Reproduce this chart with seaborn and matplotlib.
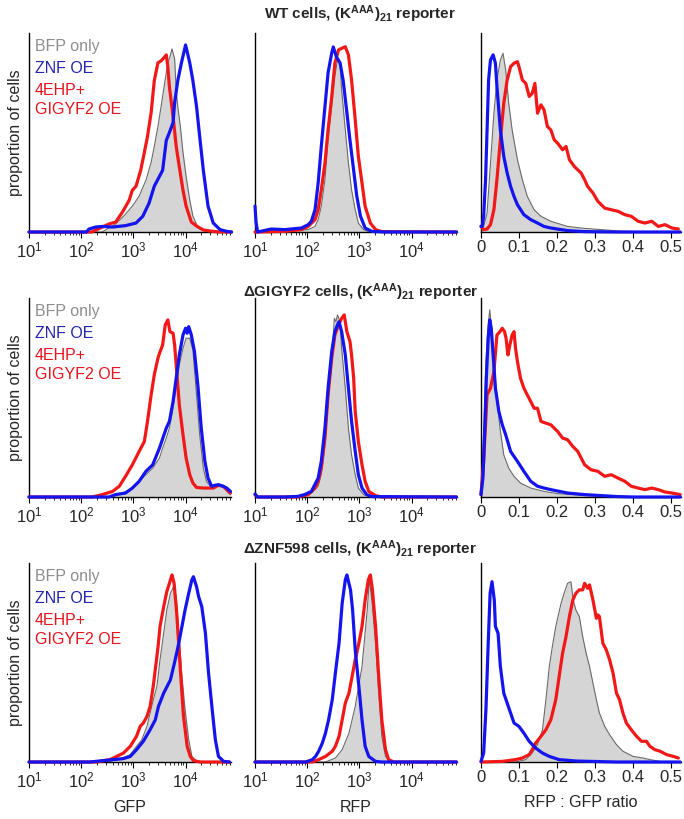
import numpy as np
import matplotlib
matplotlib.use("Agg")
import matplotlib.pyplot as plt
import seaborn as sns
from matplotlib.ticker import LogLocator, NullFormatter, FixedLocator, FixedFormatter

# ---- data: GFP / RFP x values are log10(intensity), y is proportion of cells (mode-normalised)
# WT cells
wt_gfp_bfp_x = [1.0, 2.4, 2.66, 2.85, 2.98, 3.11, 3.24, 3.34, 3.40, 3.47, 3.53, 3.60, 3.66, 3.70, 3.74, 3.79, 3.82, 3.85, 3.90, 3.95, 4.01, 4.08, 4.14, 4.24, 4.4, 4.88]
wt_gfp_bfp_y = [0, 0, .04, .09, .13, .18, .26, .35, .43, .53, .63, .75, .85, .88, .92, .87, .71, .63, .53, .40, .28, .16, .08, .02, 0, 0]
wt_gfp_znf_x = [1.0, 2.1, 2.15, 2.28, 2.40, 2.6, 2.85, 3.05, 3.18, 3.30, 3.40, 3.50, 3.56, 3.63, 3.69, 3.76, 3.79, 3.85, 3.92, 4.0, 4.08, 4.14, 4.21, 4.27, 4.34, 4.43, 4.53, 4.66, 4.79, 4.88]
wt_gfp_znf_y = [0, 0, .015, .025, .028, .025, .032, .045, .079, .145, .23, .28, .31, .46, .50, .55, .65, .76, .85, .94, .85, .76, .63, .48, .31, .13, .045, .012, .003, 0]
wt_gfp_ehp_x = [1.0, 2.2, 2.53, 2.66, 2.79, 2.92, 2.98, 3.05, 3.14, 3.21, 3.27, 3.34, 3.37, 3.40, 3.47, 3.53, 3.60, 3.63, 3.66, 3.69, 3.76, 3.82, 3.89, 3.95, 4.01, 4.11, 4.21, 4.34, 4.53, 4.66, 4.88]
wt_gfp_ehp_y = [0, 0, .04, .05, .1, .16, .21, .23, .31, .40, .48, .60, .68, .76, .85, .86, .88, .89, .83, .73, .58, .43, .31, .21, .13, .05, .03, .01, .003, 0, 0]

wt_rfp_bfp_x = [1.0, 2.02, 2.15, 2.21, 2.27, 2.34, 2.40, 2.47, 2.53, 2.58, 2.63, 2.66, 2.73, 2.79, 2.85, 2.92, 2.98, 3.08, 3.18, 4.86]
wt_rfp_bfp_y = [0, .012, .028, .062, .129, .263, .463, .63, .78, .865, .848, .714, .513, .346, .212, .112, .045, .012, .002, 0]
wt_rfp_znf_x = [1.0, 1.02, 1.05, 1.31, 1.57, 1.89, 2.02, 2.08, 2.15, 2.21, 2.27, 2.34, 2.40, 2.47, 2.50, 2.56, 2.63, 2.69, 2.76, 2.82, 2.89, 2.95, 3.02, 3.11, 3.24, 3.5, 4.86]
wt_rfp_znf_y = [.13, .05, 0, .015, .012, .02, .037, .054, .112, .246, .43, .63, .80, .90, .93, .88, .85, .76, .60, .46, .31, .18, .08, .02, .003, 0, 0]
wt_rfp_ehp_x = [1.0, 1.57, 1.89, 2.02, 2.15, 2.21, 2.27, 2.34, 2.40, 2.47, 2.53, 2.60, 2.66, 2.73, 2.79, 2.85, 2.92, 2.98, 3.05, 3.11, 3.21, 3.31, 3.43, 4.86]
wt_rfp_ehp_y = [0, .003, .012, .028, .062, .112, .212, .346, .513, .68, .848, .915, .923, .931, .89, .764, .564, .38, .246, .129, .045, .012, .002, 0]

wt_ratio_bfp_x = [0, .007, .016, .025, .034, .042, .051, .058, .065, .073, .082, .096, .109, .122, .14, .158, .184, .228, .273, .317, .361, .405, .45]
wt_ratio_bfp_y = [.012, .028, .095, .346, .597, .764, .865, .898, .814, .647, .513, .363, .263, .179, .112, .079, .054, .028, .018, .012, .005, .002, 0]
wt_ratio_znf_x = [0, .003, .007, .012, .016, .02, .025, .032, .038, .042, .051, .06, .069, .078, .087, .096, .113, .131, .149, .166, .184, .228, .273, .361, .525]
wt_ratio_znf_y = [.028, .028, .079, .263, .513, .764, .865, .89, .848, .731, .513, .38, .296, .229, .179, .137, .087, .062, .045, .028, .02, .007, .002, 0, 0]
wt_ratio_ehp_x = [0, .007, .016, .025, .034, .042, .051, .06, .069, .078, .087, .096, .10, .109, .118, .127, .135, .142, .149, .158, .166, .175, .184, .193, .202, .215, .224, .233, .246, .264, .273, .281, .295, .308, .326, .343, .361, .379, .396, .414, .432, .45, .467, .485, .503, .52]
wt_ratio_ehp_y = [.028, .012, .015, .037, .112, .263, .463, .647, .764, .831, .848, .856, .831, .764, .747, .681, .697, .747, .597, .639, .614, .53, .513, .463, .446, .413, .43, .363, .329, .296, .263, .229, .196, .154, .12, .112, .104, .087, .079, .054, .045, .054, .028, .037, .02, .015]

# dGIGYF2 cells
dgig_gfp_bfp_x = [1.0, 2.5, 2.73, 2.98, 3.11, 3.24, 3.37, 3.50, 3.56, 3.63, 3.69, 3.76, 3.82, 3.88, 3.95, 4.01, 4.08, 4.14, 4.21, 4.27, 4.34, 4.40, 4.50, 4.63, 4.72, 4.79, 4.86]
dgig_gfp_bfp_y = [0, 0, .012, .045, .079, .112, .145, .196, .246, .296, .346, .446, .547, .664, .747, .798, .798, .739, .513, .313, .145, .079, .045, .054, .054, .028, .012]
dgig_gfp_znf_x = [1.0, 2.53, 2.66, 2.85, 2.98, 3.11, 3.24, 3.37, 3.50, 3.63, 3.69, 3.76, 3.82, 3.88, 3.95, 4.0, 4.03, 4.06, 4.11, 4.17, 4.24, 4.30, 4.37, 4.43, 4.50, 4.56, 4.63, 4.72, 4.79, 4.86]
dgig_gfp_znf_y = [0, 0, .012, .02, .045, .079, .129, .162, .246, .346, .38, .48, .597, .714, .814, .848, .823, .856, .814, .731, .547, .346, .179, .095, .054, .059, .062, .054, .045, .028]
dgig_gfp_ehp_x = [1.0, 2.21, 2.40, 2.60, 2.73, 2.85, 2.98, 3.11, 3.21, 3.27, 3.34, 3.40, 3.47, 3.50, 3.56, 3.61, 3.66, 3.70, 3.76, 3.79, 3.83, 3.88, 3.95, 4.01, 4.08, 4.14, 4.21, 4.34, 4.53, 4.63, 4.72, 4.79, 4.86]
dgig_gfp_ehp_y = [0, 0, .012, .028, .054, .104, .162, .229, .279, .38, .513, .614, .697, .722, .764, .865, .89, .831, .823, .764, .63, .463, .313, .196, .112, .07, .048, .045, .045, .059, .054, .037, .02]

dgig_rfp_bfp_x = [1.0, 1.89, 2.08, 2.21, 2.27, 2.34, 2.40, 2.47, 2.52, 2.55, 2.58, 2.63, 2.66, 2.73, 2.79, 2.85, 2.92, 2.98, 3.08, 3.18, 4.86]
dgig_rfp_bfp_y = [0, .003, .02, .054, .112, .263, .48, .681, .898, .881, .915, .881, .747, .547, .346, .212, .112, .045, .012, .002, 0]
dgig_rfp_znf_x = [1.0, 1.05, 1.57, 1.82, 1.95, 2.08, 2.21, 2.27, 2.34, 2.40, 2.47, 2.53, 2.58, 2.61, 2.66, 2.73, 2.79, 2.85, 2.92, 2.98, 3.05, 3.14, 3.24, 4.86]
dgig_rfp_znf_y = [.015, 0, 0, .003, .012, .028, .095, .179, .346, .547, .731, .831, .865, .881, .831, .714, .547, .38, .229, .112, .045, .012, .002, 0]
dgig_rfp_ehp_x = [1.0, 1.05, 1.82, 2.02, 2.15, 2.21, 2.27, 2.34, 2.40, 2.47, 2.53, 2.60, 2.66, 2.71, 2.76, 2.82, 2.85, 2.89, 2.92, 2.98, 3.05, 3.11, 3.18, 3.31, 3.43, 4.86]
dgig_rfp_ehp_y = [.012, 0, 0, .012, .045, .079, .145, .296, .513, .697, .814, .865, .898, .915, .831, .781, .714, .597, .43, .279, .162, .079, .028, .007, 0, 0]

dgig_ratio_bfp_x = [0, .004, .009, .013, .018, .023, .028, .034, .041, .05, .06, .073, .087, .104, .131, .166, .202, .273, .361, .45]
dgig_ratio_bfp_y = [.012, .179, .43, .681, .848, .94, .848, .681, .513, .346, .212, .145, .104, .07, .045, .028, .017, .007, .002, 0]
dgig_ratio_znf_x = [0, .005, .01, .014, .019, .023, .027, .032, .038, .047, .056, .065, .078, .096, .113, .131, .149, .166, .184, .228, .273, .317, .361, .405, .525]
dgig_ratio_znf_y = [.012, .095, .346, .597, .798, .89, .848, .714, .547, .43, .363, .313, .229, .179, .129, .079, .054, .045, .037, .02, .012, .007, .002, 0, 0]
dgig_ratio_ehp_x = [0, .007, .016, .025, .034, .042, .05, .056, .062, .066, .071, .076, .082, .087, .091, .096, .104, .113, .122, .131, .14, .149, .158, .171, .184, .193, .202, .215, .228, .242, .255, .264, .273, .29, .308, .326, .343, .361, .379, .396, .414, .432, .45, .467, .485, .503, .525]
dgig_ratio_ehp_y = [.012, .179, .513, .547, .63, .814, .831, .848, .831, .798, .714, .764, .814, .831, .747, .681, .597, .547, .513, .48, .446, .446, .38, .371, .363, .346, .329, .296, .288, .254, .229, .196, .162, .137, .129, .104, .112, .095, .079, .054, .045, .037, .045, .037, .025, .02, .012]

# dZNF598 cells
dznf_gfp_bfp_x = [1.0, 2.49, 2.74, 2.94, 3.06, 3.16, 3.26, 3.35, 3.45, 3.51, 3.58, 3.64, 3.71, 3.77, 3.82, 3.87, 3.93, 3.99, 4.06, 4.12, 4.22, 4.84]
dznf_gfp_bfp_y = [0, 0, .015, .037, .079, .112, .179, .279, .38, .513, .647, .764, .848, .881, .831, .647, .43, .263, .112, .028, .003, 0]
dznf_gfp_znf_x = [1.0, 2.17, 2.42, 2.62, 2.81, 2.94, 3.06, 3.19, 3.32, 3.42, 3.48, 3.58, 3.71, 3.80, 3.87, 3.93, 3.99, 4.06, 4.12, 4.15, 4.21, 4.25, 4.31, 4.38, 4.44, 4.51, 4.57, 4.63, 4.73, 4.84]
dznf_gfp_znf_y = [0, 0, .007, .012, .017, .028, .062, .104, .162, .212, .279, .346, .413, .513, .597, .681, .764, .848, .915, .931, .881, .831, .781, .647, .446, .263, .112, .028, .003, 0]
dznf_gfp_ehp_x = [1.0, 2.29, 2.55, 2.68, 2.81, 2.94, 3.06, 3.13, 3.19, 3.26, 3.32, 3.38, 3.45, 3.48, 3.51, 3.58, 3.64, 3.71, 3.74, 3.78, 3.83, 3.90, 3.96, 4.03, 4.09, 4.15, 4.28, 4.84]
dznf_gfp_ehp_y = [0, 0, .012, .028, .045, .079, .129, .179, .196, .229, .279, .38, .53, .597, .681, .78, .856, .915, .94, .898, .747, .463, .229, .079, .028, .007, 0, 0]

dznf_rfp_bfp_x = [1.0, 2.35, 2.54, 2.67, 2.80, 2.92, 3.05, 3.15, 3.19, 3.24, 3.31, 3.37, 3.43, 3.50, 3.59, 4.86]
dznf_rfp_bfp_y = [0, 0, .02, .062, .145, .279, .48, .764, .915, .814, .597, .346, .129, .028, .002, 0]
dznf_rfp_znf_x = [1.0, 1.97, 2.10, 2.16, 2.22, 2.29, 2.35, 2.41, 2.48, 2.54, 2.61, 2.67, 2.73, 2.76, 2.83, 2.87, 2.92, 2.99, 3.05, 3.11, 3.18, 3.31, 3.43, 4.86]
dznf_rfp_znf_y = [0, 0, .012, .028, .054, .095, .145, .212, .313, .447, .597, .798, .915, .94, .865, .764, .564, .38, .212, .079, .028, .003, 0, 0]
dznf_rfp_ehp_x = [1.0, 2.10, 2.22, 2.35, 2.48, 2.54, 2.61, 2.67, 2.73, 2.80, 2.86, 2.92, 2.99, 3.05, 3.11, 3.17, 3.21, 3.25, 3.31, 3.37, 3.43, 3.50, 3.56, 3.66, 4.86]
dznf_rfp_ehp_y = [0, 0, .012, .028, .054, .079, .129, .212, .296, .346, .43, .513, .597, .681, .814, .915, .94, .865, .681, .43, .212, .062, .012, 0, 0]

dznf_ratio_bfp_x = [0, .091, .118, .135, .149, .162, .171, .18, .188, .197, .211, .219, .228, .237, .243, .25, .259, .268, .277, .286, .295, .304, .312, .326, .339, .357, .374, .401, .427, .445, .472]
dznf_ratio_bfp_y = [0, 0, .012, .045, .087, .162, .313, .48, .58, .681, .798, .848, .898, .906, .814, .764, .731, .63, .547, .48, .396, .313, .246, .179, .137, .087, .054, .028, .02, .012, .003]
dznf_ratio_znf_x = [0, .007, .013, .019, .024, .029, .035, .038, .045, .051, .06, .069, .078, .087, .10, .113, .127, .144, .162, .18, .206, .25, .312, .357, .525]
dznf_ratio_znf_y = [.003, .045, .263, .597, .848, .906, .814, .681, .647, .48, .346, .296, .246, .196, .179, .145, .104, .07, .045, .028, .012, .005, .002, 0, 0]
dznf_ratio_ehp_x = [0, .056, .091, .109, .127, .135, .144, .158, .171, .184, .197, .206, .215, .224, .233, .242, .25, .259, .268, .273, .281, .286, .295, .304, .308, .312, .321, .33, .339, .348, .357, .365, .374, .383, .396, .41, .423, .436, .445, .458, .472, .489, .507, .52]
dznf_ratio_ehp_y = [0, .003, .012, .02, .037, .062, .095, .129, .162, .212, .313, .43, .547, .63, .731, .814, .848, .865, .865, .898, .873, .89, .814, .722, .739, .731, .597, .564, .513, .446, .346, .313, .246, .196, .162, .129, .104, .104, .079, .062, .054, .037, .028, .02]

row_titles = [r"WT cells, (K$^{\mathbf{AAA}}$)$_{\mathbf{21}}$ reporter",
              r"ΔGIGYF2 cells, (K$^{\mathbf{AAA}}$)$_{\mathbf{21}}$ reporter",
              r"ΔZNF598 cells, (K$^{\mathbf{AAA}}$)$_{\mathbf{21}}$ reporter"]
legend_labels = ["BFP only", "ZNF OE", "4EHP+", "GIGYF2 OE"]
x_labels = ["GFP", "RFP", "RFP : GFP ratio"]
ratio_ticks = [0, 0.1, 0.2, 0.3, 0.4, 0.5]
ratio_tick_labels = ["0", "0.1", "0.2", "0.3", "0.4", "0.5"]

panels = [
    [(wt_gfp_bfp_x, wt_gfp_bfp_y, wt_gfp_znf_x, wt_gfp_znf_y, wt_gfp_ehp_x, wt_gfp_ehp_y),
     (wt_rfp_bfp_x, wt_rfp_bfp_y, wt_rfp_znf_x, wt_rfp_znf_y, wt_rfp_ehp_x, wt_rfp_ehp_y),
     (wt_ratio_bfp_x, wt_ratio_bfp_y, wt_ratio_znf_x, wt_ratio_znf_y, wt_ratio_ehp_x, wt_ratio_ehp_y)],
    [(dgig_gfp_bfp_x, dgig_gfp_bfp_y, dgig_gfp_znf_x, dgig_gfp_znf_y, dgig_gfp_ehp_x, dgig_gfp_ehp_y),
     (dgig_rfp_bfp_x, dgig_rfp_bfp_y, dgig_rfp_znf_x, dgig_rfp_znf_y, dgig_rfp_ehp_x, dgig_rfp_ehp_y),
     (dgig_ratio_bfp_x, dgig_ratio_bfp_y, dgig_ratio_znf_x, dgig_ratio_znf_y, dgig_ratio_ehp_x, dgig_ratio_ehp_y)],
    [(dznf_gfp_bfp_x, dznf_gfp_bfp_y, dznf_gfp_znf_x, dznf_gfp_znf_y, dznf_gfp_ehp_x, dznf_gfp_ehp_y),
     (dznf_rfp_bfp_x, dznf_rfp_bfp_y, dznf_rfp_znf_x, dznf_rfp_znf_y, dznf_rfp_ehp_x, dznf_rfp_ehp_y),
     (dznf_ratio_bfp_x, dznf_ratio_bfp_y, dznf_ratio_znf_x, dznf_ratio_znf_y, dznf_ratio_ehp_x, dznf_ratio_ehp_y)],
]

sns.set_theme(style="ticks")
plt.rcParams['font.family'] = ['Liberation Sans', 'DejaVu Sans']
plt.rcParams['mathtext.fontset'] = 'custom'
plt.rcParams['mathtext.rm'] = 'Liberation Sans'
plt.rcParams['mathtext.it'] = 'Liberation Sans:italic'
plt.rcParams['mathtext.bf'] = 'Liberation Sans:bold'

fill_col = '#d5d5d5'
edge_col = '#6a6a6a'
blue = '#1414ee'
red = '#f21818'
text_cols = ['#8e8e8e', '#2424a8', '#e5141e', '#e5141e']

fig = plt.figure(figsize=(6.84, 8.19), dpi=100)

col_left = [29 / 684, 255 / 684, 481 / 684]
col_width = [202 / 684, 202 / 684, 200 / 684]
row_bottom = [1 - 232 / 819, 1 - 497 / 819, 1 - 762 / 819]
row_height = 199 / 819
title_y = [1 - 14 / 819, 1 - 292 / 819, 1 - 549 / 819]
legend_y = [0.93, 0.82, 0.71, 0.615]

for r in range(3):
    fig.text(0.527, title_y[r], row_titles[r], ha='center', va='center',
             fontsize=11, fontweight='bold')
    for c in range(3):
        ax = fig.add_axes([col_left[c], row_bottom[r], col_width[c], row_height])
        bx, by, zx, zy, ex, ey = panels[r][c]
        if c < 2:
            ax.set_xscale('log')
            bx, zx, ex = (10 ** np.array(v) for v in (bx, zx, ex))
        ax.fill_between(bx, by, color=fill_col, lw=0, zorder=1)
        sns.lineplot(x=bx, y=by, color=edge_col, lw=0.8, ax=ax, sort=False,
                     estimator=None, zorder=2)
        sns.lineplot(x=ex, y=ey, color=red, lw=2.3, ax=ax, sort=False,
                     estimator=None, zorder=3, clip_on=False)
        sns.lineplot(x=zx, y=zy, color=blue, lw=2.3, ax=ax, sort=False,
                     estimator=None, zorder=4, clip_on=False)

        ax.set_ylim(0, 1)
        ax.set_yticks([])
        if c < 2:
            ax.set_xlim(10, 10 ** 4.87)
            ax.xaxis.set_major_locator(FixedLocator([10, 100, 1000, 10000]))
            ax.xaxis.set_minor_locator(LogLocator(base=10, subs=np.arange(2, 10), numticks=20))
            ax.xaxis.set_minor_formatter(NullFormatter())
        else:
            ax.set_xlim(0, 0.527)
            ax.xaxis.set_major_locator(FixedLocator(ratio_ticks))
            ax.xaxis.set_major_formatter(FixedFormatter(ratio_tick_labels))
        ax.tick_params(axis='x', which='major', direction='out', length=4, width=0.8,
                       labelsize=12, pad=2, color='black')
        ax.tick_params(axis='x', which='minor', direction='out', length=2.5, width=0.6,
                       color='black')
        sns.despine(ax=ax)
        for s in ('left', 'bottom'):
            ax.spines[s].set_color('black')
            ax.spines[s].set_linewidth(1.0)

        if c == 0:
            ax.set_ylabel("proportion of cells", fontsize=11.5, labelpad=4)
            for i, lab in enumerate(legend_labels):
                ax.text(0.03, legend_y[i], lab, transform=ax.transAxes, color=text_cols[i],
                        fontsize=11.5, ha='left', va='center')
        if r == 2:
            ax.set_xlabel(x_labels[c], fontsize=11.5, labelpad=7)

fig.savefig("out.png", dpi=100)
